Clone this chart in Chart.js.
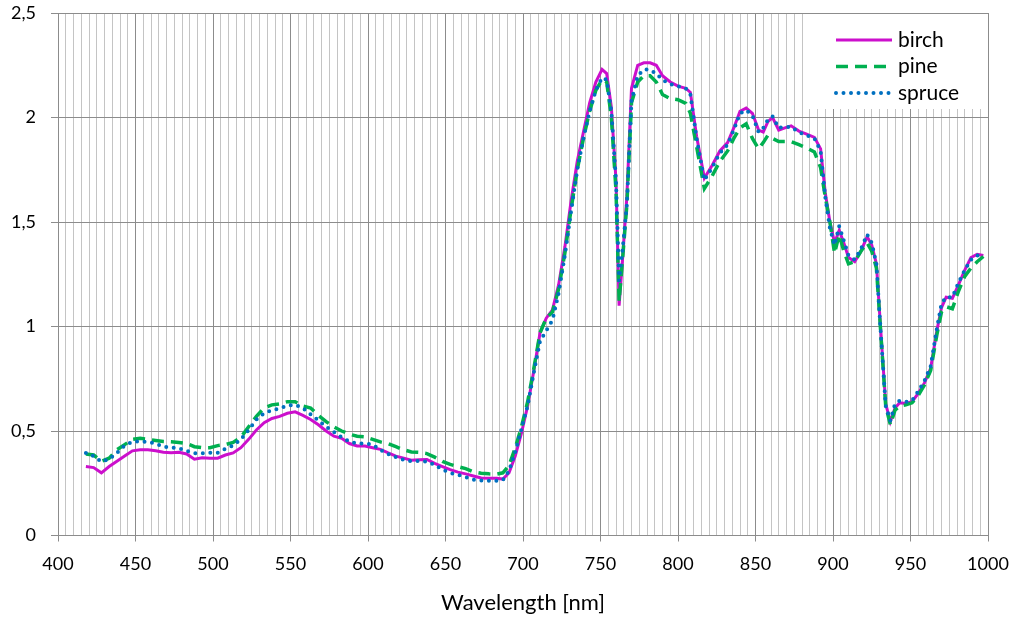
<!DOCTYPE html>
<html>
<head>
<meta charset="utf-8">
<script src="https://cdn.jsdelivr.net/npm/chart.js@4.4.1/dist/chart.umd.min.js"></script>
<style>
  html, body { margin: 0; padding: 0; background: #fff; }
  canvas { display: block; }
</style>
</head>
<body>
<canvas id="spectra" width="1023" height="628"></canvas>
<script>
// wavelength grid [nm], shared by all three series
const wavelengths = [
  418, 423, 428, 433, 438, 443, 448, 453, 458, 463, 468, 473, 478, 483, 488, 493, 498, 503, 508, 513,
  518, 523, 528, 533, 538, 543, 548, 553, 558, 563, 568, 573, 578, 583, 588, 593, 598, 603, 608, 613,
  618, 623, 628, 633, 638, 643, 648, 653, 658, 663, 668, 673, 678, 683, 687, 691, 695, 699, 703, 707,
  711, 715, 719, 723, 727, 731, 735, 739, 743, 747, 751, 754, 757, 760, 762, 764, 767, 770, 774, 778,
  782, 786, 790, 795, 800, 805, 808, 812, 817, 822, 827, 832, 836, 840, 844, 848, 852, 855, 858, 861,
  865, 869, 873, 878, 883, 888, 892, 895, 898, 901, 904, 907, 910, 914, 918, 922, 925, 928, 931, 934,
  937, 940, 943, 947, 951, 955, 959, 963, 967, 970, 973, 977, 981, 985, 989, 993, 997
];

const birch = [
  0.33, 0.325, 0.30, 0.33, 0.355, 0.38, 0.405, 0.41, 0.41, 0.405, 0.398, 0.396, 0.398, 0.39, 0.365, 0.372, 0.37, 0.37, 0.385, 0.395,
  0.42, 0.46, 0.505, 0.54, 0.56, 0.57, 0.585, 0.592, 0.575, 0.555, 0.53, 0.50, 0.475, 0.465, 0.44, 0.428, 0.428, 0.42, 0.412, 0.395,
  0.38, 0.37, 0.36, 0.362, 0.364, 0.345, 0.33, 0.315, 0.303, 0.295, 0.285, 0.275, 0.274, 0.274, 0.27, 0.30, 0.38, 0.49, 0.62, 0.79,
  0.97, 1.04, 1.08, 1.20, 1.38, 1.60, 1.79, 1.93, 2.07, 2.17, 2.23, 2.21, 2.05, 1.70, 1.10, 1.30, 1.62, 2.14, 2.25, 2.262,
  2.262, 2.25, 2.20, 2.17, 2.15, 2.14, 2.12, 1.91, 1.71, 1.77, 1.84, 1.88, 1.95, 2.03, 2.045, 2.02, 1.94, 1.93, 1.98, 2.00,
  1.94, 1.95, 1.96, 1.935, 1.92, 1.905, 1.85, 1.64, 1.50, 1.40, 1.46, 1.40, 1.33, 1.31, 1.36, 1.43, 1.39, 1.30, 0.96, 0.63,
  0.545, 0.61, 0.635, 0.632, 0.64, 0.68, 0.73, 0.80, 0.98, 1.09, 1.14, 1.135, 1.20, 1.27, 1.33, 1.345, 1.34
];

const pine = [
  0.39, 0.385, 0.355, 0.37, 0.41, 0.435, 0.46, 0.465, 0.46, 0.455, 0.45, 0.448, 0.445, 0.44, 0.425, 0.42, 0.42, 0.43, 0.435, 0.445,
  0.47, 0.52, 0.57, 0.61, 0.625, 0.63, 0.64, 0.64, 0.62, 0.61, 0.575, 0.545, 0.52, 0.50, 0.485, 0.475, 0.472, 0.46, 0.448, 0.44,
  0.425, 0.41, 0.40, 0.398, 0.392, 0.375, 0.355, 0.34, 0.33, 0.32, 0.305, 0.298, 0.295, 0.294, 0.30, 0.335, 0.42, 0.52, 0.64, 0.80,
  0.97, 1.04, 1.07, 1.18, 1.35, 1.56, 1.75, 1.90, 2.03, 2.13, 2.18, 2.17, 2.00, 1.65, 1.12, 1.30, 1.58, 2.07, 2.17, 2.20,
  2.20, 2.17, 2.11, 2.09, 2.085, 2.068, 2.02, 1.86, 1.66, 1.72, 1.79, 1.84, 1.90, 1.95, 1.97, 1.90, 1.85, 1.88, 1.915, 1.90,
  1.885, 1.885, 1.885, 1.87, 1.855, 1.835, 1.76, 1.62, 1.50, 1.35, 1.44, 1.36, 1.30, 1.31, 1.36, 1.40, 1.36, 1.28, 0.95, 0.62,
  0.53, 0.60, 0.62, 0.625, 0.635, 0.67, 0.72, 0.79, 0.96, 1.07, 1.095, 1.085, 1.17, 1.24, 1.28, 1.31, 1.335
];

const spruce = [
  0.395, 0.38, 0.353, 0.365, 0.395, 0.43, 0.448, 0.45, 0.448, 0.44, 0.425, 0.42, 0.418, 0.405, 0.393, 0.393, 0.396, 0.396, 0.415, 0.43,
  0.46, 0.505, 0.555, 0.585, 0.60, 0.608, 0.622, 0.625, 0.61, 0.58, 0.55, 0.52, 0.495, 0.47, 0.45, 0.44, 0.44, 0.435, 0.41, 0.39,
  0.375, 0.362, 0.356, 0.356, 0.353, 0.338, 0.315, 0.30, 0.29, 0.28, 0.267, 0.263, 0.262, 0.262, 0.265, 0.31, 0.40, 0.51, 0.62, 0.78,
  0.93, 0.98, 1.03, 1.16, 1.34, 1.55, 1.75, 1.90, 2.03, 2.13, 2.19, 2.18, 2.03, 1.70, 1.22, 1.35, 1.58, 2.08, 2.20, 2.23,
  2.228, 2.21, 2.18, 2.16, 2.15, 2.14, 2.11, 1.90, 1.70, 1.76, 1.83, 1.87, 1.94, 2.02, 2.035, 2.01, 1.93, 1.95, 1.99, 2.005,
  1.95, 1.955, 1.955, 1.93, 1.915, 1.90, 1.84, 1.62, 1.47, 1.39, 1.48, 1.41, 1.34, 1.32, 1.37, 1.44, 1.40, 1.30, 0.95, 0.62,
  0.55, 0.63, 0.645, 0.64, 0.645, 0.69, 0.74, 0.81, 0.99, 1.11, 1.14, 1.14, 1.21, 1.27, 1.32, 1.34, 1.335
];

const seriesNames = ['birch', 'pine', 'spruce'];

const FONT = 'Lato, "Open Sans", sans-serif';
const MAJOR_GRID = '#8c8c8c';
const MINOR_GRID = '#c4c4c4';

function toPoints(ys) {
  return wavelengths.map((x, i) => ({ x: x, y: ys[i] }));
}

// legend drawn inside the plot area, top right, on a white box
const boxLegend = {
  id: 'boxLegend',
  afterDatasetsDraw(chart) {
    const ctx = chart.ctx;
    const area = chart.chartArea;
    const left = area.right - 180;
    const top = area.top + 1;
    ctx.save();
    ctx.fillStyle = '#ffffff';
    ctx.fillRect(left, top, 179, 95);
    ctx.font = '21px ' + FONT;
    ctx.textBaseline = 'middle';
    ctx.textAlign = 'left';
    chart.data.datasets.forEach((ds, i) => {
      const y = top + 26 + i * 26.5;
      ctx.strokeStyle = ds.borderColor;
      ctx.lineWidth = ds.borderWidth;
      ctx.lineCap = ds.borderCapStyle || 'butt';
      ctx.setLineDash(ds.borderDash || []);
      ctx.beginPath();
      ctx.moveTo(left + 28, y);
      ctx.lineTo(left + 84, y);
      ctx.stroke();
      ctx.setLineDash([]);
      ctx.fillStyle = '#000000';
      ctx.fillText(ds.label, left + 90, y);
    });
    ctx.restore();
  }
};

new Chart(document.getElementById('spectra'), {
  type: 'line',
  data: {
    datasets: [
      {
        label: seriesNames[0],
        data: toPoints(birch),
        borderColor: '#cc0fcc',
        borderWidth: 3,
        order: 3
      },
      {
        label: seriesNames[1],
        data: toPoints(pine),
        borderColor: '#00b050',
        borderWidth: 3.5,
        borderDash: [12, 7],
        order: 2
      },
      {
        label: seriesNames[2],
        data: toPoints(spruce),
        borderColor: '#0070c0',
        borderWidth: 4,
        borderDash: [0, 7.5],
        borderCapStyle: 'round',
        order: 1
      }
    ]
  },
  options: {
    responsive: false,
    animation: false,
    layout: { padding: { top: 13, right: 35, left: 0, bottom: 0 } },
    elements: {
      point: { radius: 0 },
      line: { tension: 0, fill: false }
    },
    plugins: {
      legend: { display: false },
      tooltip: { enabled: false }
    },
    scales: {
      x: {
        type: 'linear',
        min: 400,
        max: 1000,
        afterFit: (scale) => {
          scale.height = 92.5;
          scale.paddingLeft = 0;
          scale.paddingRight = 0;
        },
        border: { color: MAJOR_GRID, width: 1 },
        grid: {
          color: (c) => (c.tick && c.tick.value % 50 === 0 ? MAJOR_GRID : MINOR_GRID),
          tickColor: (c) => (c.tick && c.tick.value % 50 === 0 ? MAJOR_GRID : 'rgba(0,0,0,0)'),
          tickLength: 6,
          lineWidth: 1
        },
        ticks: {
          stepSize: 5,
          autoSkip: false,
          maxRotation: 0,
          padding: 12,
          color: '#000',
          font: { family: FONT, size: 18 },
          callback: (v) => (v % 50 === 0 ? String(v) : '')
        },
        title: {
          display: true,
          text: 'Wavelength [nm]',
          color: '#000',
          font: { family: FONT, size: 22 },
          padding: { top: 0, bottom: 12 }
        }
      },
      y: {
        min: 0,
        max: 2.5,
        afterFit: (scale) => {
          scale.width = 58;
          scale.paddingTop = 0;
          scale.paddingBottom = 0;
        },
        border: { color: MAJOR_GRID, width: 1 },
        grid: {
          color: MAJOR_GRID,
          tickLength: 7,
          lineWidth: 1
        },
        ticks: {
          stepSize: 0.5,
          padding: 15,
          color: '#000',
          font: { family: FONT, size: 18 },
          callback: (v) => String(v).replace('.', ',')
        }
      }
    }
  },
  plugins: [boxLegend]
});
</script>
</body>
</html>
